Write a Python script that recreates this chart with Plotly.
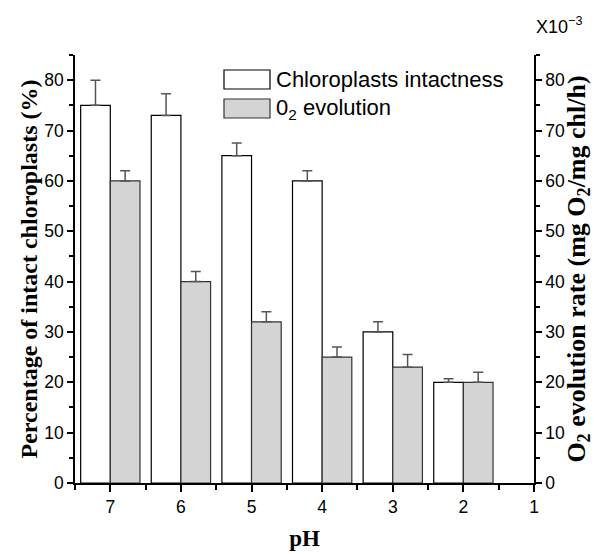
import plotly.graph_objects as go

ph = [7, 6, 5, 4, 3, 2]
intact = [75, 73, 65, 60, 30, 20]
intact_err = [5, 4.3, 2.5, 2, 2, 0.7]
o2 = [60, 40, 32, 25, 23, 20]  # x10^-3
o2_err = [2, 2, 2, 2, 2.5, 2]

fig = go.Figure()
fig.add_trace(go.Bar(
    x=ph, y=intact, name="Chloroplasts intactness",
    width=0.42, offset=0,
    marker=dict(color="white", line=dict(color="black", width=1.2)),
    error_y=dict(type="data", array=intact_err, symmetric=False, arrayminus=[0]*6,
                 color="#555555", thickness=1.5, width=5),
    showlegend=False, yaxis="y"))
fig.add_trace(go.Bar(
    x=ph, y=o2, name="0<sub>2</sub> evolution",
    width=0.42, offset=-0.42,
    marker=dict(color="#d4d4d4", line=dict(color="#333333", width=1.2)),
    error_y=dict(type="data", array=o2_err, symmetric=False, arrayminus=[0]*6,
                 color="#555555", thickness=1.5, width=5),
    showlegend=False, yaxis="y2"))

tickfont = dict(family="Liberation Sans, Arial", size=17.5, color="black")
serif = "Liberation Serif, Times New Roman"

L, R, T, B = 75, 534, 55, 483
PW, PH = R - L, B - T

fig.update_layout(
    width=594, height=554,
    margin=dict(l=L, r=594 - R, t=T, b=554 - B, autoexpand=False),
    paper_bgcolor="white", plot_bgcolor="white",
    barmode="overlay",
    xaxis=dict(range=[7.5, 1], tickvals=[7, 6, 5, 4, 3, 2, 1], ticks="outside",
               ticklen=7, tickwidth=1.5, tickcolor="black", automargin=False,
               minor=dict(tickvals=[7.5, 6.5, 5.5, 4.5, 3.5, 2.5, 1.5], ticks="outside",
                          ticklen=5, tickwidth=1.5, tickcolor="black"),
               showline=True, linecolor="black", linewidth=1.5, showgrid=False,
               zeroline=False, tickfont=tickfont,
               title=dict(text="<b>pH</b>", font=dict(family=serif, size=23, color="black"),
                          standoff=14)),
    yaxis=dict(range=[0, 85], tickvals=[0, 10, 20, 30, 40, 50, 60, 70, 80],
               ticks="outside", ticklen=6, tickwidth=1.5, tickcolor="black",
               automargin=False,
               minor=dict(tickvals=[5, 15, 25, 35, 45, 55, 65, 75, 85], ticks="outside",
                          ticklen=4, tickwidth=1.5, tickcolor="black"),
               showline=True, linecolor="black", linewidth=1.5, showgrid=False,
               zeroline=False, tickfont=tickfont,
               title=dict(text="<b>Percentage of intact chloroplasts (%)</b>",
                          font=dict(family=serif, size=24, color="black"), standoff=0)),
    yaxis2=dict(range=[0, 85], overlaying="y", side="right",
                tickvals=[0, 10, 20, 30, 40, 50, 60, 70, 80], automargin=False,
                ticks="outside", ticklen=6, tickwidth=1.5, tickcolor="black",
                minor=dict(tickvals=[5, 15, 25, 35, 45, 55, 65, 75, 85], ticks="outside",
                           ticklen=4, tickwidth=1.5, tickcolor="black"),
                showline=True, linecolor="black", linewidth=1.5, showgrid=False,
                zeroline=False, tickfont=tickfont,
                title=dict(text="<b>O<sub>2</sub> evolution rate (mg O<sub>2</sub>/mg chl/h)</b>",
                           font=dict(family=serif, size=26, color="black"), standoff=0)),
)

# legend drawn manually
legend_items = [("Chloroplasts intactness", "white", "black"),
                ("0<sub>2</sub> evolution", "#d4d4d4", "#333333")]
for i, (txt, fill, line) in enumerate(legend_items):
    y0 = 1 - (70 - T + i * 29) / PH
    y1 = y0 - 19 / PH
    fig.add_shape(type="rect", xref="paper", yref="paper",
                  x0=(224 - L) / PW, x1=(270 - L) / PW, y0=y1, y1=y0,
                  fillcolor=fill, line=dict(color=line, width=1.2))
    fig.add_annotation(xref="paper", yref="paper", x=(274 - L) / PW, y=(y0 + y1) / 2,
                       text=txt, showarrow=False, xanchor="left", yanchor="middle",
                       font=dict(family="Liberation Sans, Arial", size=22, color="black"))

fig.add_annotation(xref="paper", yref="paper", x=(584 - L) / PW, y=1 + (T - 26) / PH,
                   text="X10<sup>−3</sup>", showarrow=False, xanchor="right",
                   yanchor="middle",
                   font=dict(family="Liberation Sans, Arial", size=18, color="black"))

fig.write_html("out.html", config={"displayModeBar": False},
               post_script="document.body.style.margin='0';document.body.style.padding='0';")
